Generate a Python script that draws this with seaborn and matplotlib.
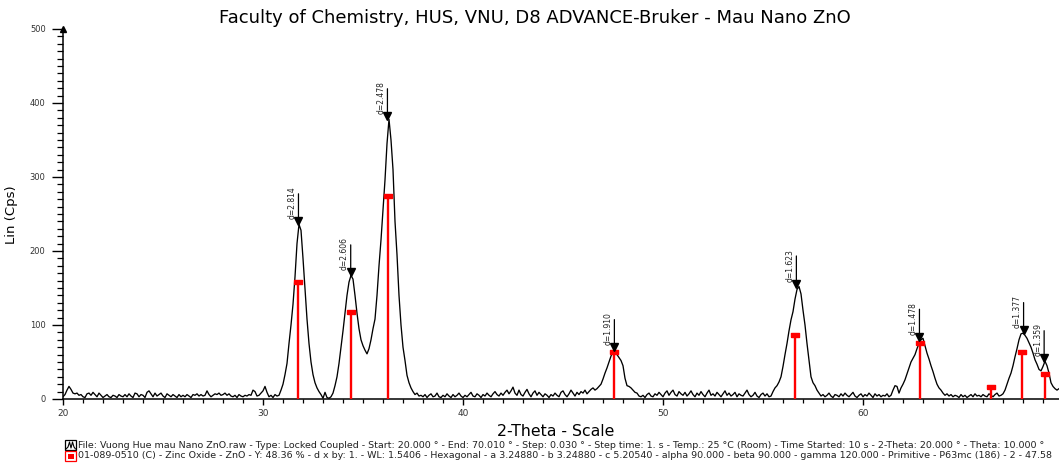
import numpy as np
import pandas as pd
import seaborn as sns
import matplotlib
matplotlib.use("Agg")
import matplotlib.pyplot as plt
from matplotlib.ticker import MultipleLocator, FuncFormatter
from matplotlib.transforms import offset_copy
from matplotlib.patches import Rectangle
from matplotlib.lines import Line2D

# ---- measured pattern: 2-theta from 20.0 to 70.0 in 0.1 degree steps (one row per degree)
two_theta_start = 20.0
two_theta_step = 0.1
intensity = [
    3, 6, 12, 17, 13, 8, 7, 8, 5, 6,            # 20
    3, 2, 7, 8, 5, 9, 6, 3, 8, 5,               # 21
    2, 4, 6, 3, 2, 5, 4, 2, 6, 4,               # 22
    3, 6, 3, 7, 4, 2, 8, 7, 3, 6,               # 23
    5, 2, 9, 11, 7, 3, 8, 4, 6, 8,              # 24
    4, 2, 7, 5, 3, 6, 4, 2, 6, 3,               # 25
    5, 3, 6, 4, 2, 6, 5, 7, 4, 6,               # 26
    4, 5, 11, 6, 3, 5, 7, 6, 8, 5,              # 27
    6, 8, 5, 7, 4, 3, 5, 2, 6, 4,               # 28
    3, 5, 4, 6, 5, 12, 10, 4, 5, 8,             # 29
    11, 17, 9, 3, 5, 2, 6, 4, 5, 12,            # 30
    20, 33, 48, 75, 100, 128, 165, 210, 236, 228,   # 31
    190, 148, 108, 75, 50, 33, 22, 15, 10, 6,   # 32
    1, 9, 2, 1, 3, 8, 18, 30, 48, 70,           # 33
    92, 116, 140, 158, 167, 162, 140, 116, 95, 80,  # 34
    72, 66, 61, 68, 80, 95, 108, 140, 180, 215,     # 35
    255, 296, 345, 378, 350, 310, 240, 195, 140, 100,  # 36
    70, 52, 32, 22, 15, 10, 6, 8, 4, 5,         # 37
    3, 6, 2, 5, 7, 3, 4, 8, 3, 2,               # 38
    5, 3, 7, 4, 2, 6, 3, 5, 8, 4,               # 39
    2, 5, 3, 6, 9, 4, 3, 7, 5, 2,               # 40
    6, 4, 8, 5, 3, 7, 10, 6, 4, 8,              # 41
    5, 9, 12, 7, 11, 16, 8, 5, 12, 6,           # 42
    4, 9, 13, 7, 3, 8, 11, 5, 9, 6,             # 43
    3, 7, 5, 2, 6, 4, 8, 5, 3, 9,               # 44
    11, 6, 3, 7, 12, 8, 4, 9, 6, 10,            # 45
    8, 12, 7, 10, 13, 15, 12, 14, 17, 20,       # 46
    27, 35, 42, 50, 58, 64, 66, 60, 56, 52,     # 47
    45, 28, 18, 17, 15, 12, 9, 8, 4, 3,         # 48
    5, 2, 6, 8, 4, 3, 7, 5, 9, 6,               # 49
    3, 8, 11, 5, 9, 12, 6, 4, 10, 7,            # 50
    5, 9, 4, 7, 11, 6, 3, 8, 5, 10,             # 51
    6, 3, 8, 12, 5, 7, 4, 9, 6, 3,              # 52
    7, 11, 5, 8, 4, 6, 9, 3, 7, 5,              # 53
    4, 8, 12, 6, 3, 5, 9, 4, 2, 6,              # 54
    8, 4, 7, 3, 4, 10, 15, 18, 23, 30,          # 55
    44, 60, 75, 92, 107, 118, 135, 148, 152, 142,   # 56
    120, 100, 75, 52, 30, 22, 18, 12, 8, 4,     # 57
    6, 3, 5, 8, 4, 2, 6, 5, 3, 7,               # 58
    4, 8, 5, 3, 6, 9, 4, 2, 5, 7,               # 59
    3, 6, 4, 8, 5, 2, 7, 4, 6, 3,               # 60
    5, 4, 7, 3, 5, 12, 18, 17, 8, 15,           # 61
    20, 26, 34, 42, 50, 55, 60, 68, 75, 80,     # 62
    82, 72, 62, 54, 45, 37, 28, 20, 15, 12,     # 63
    8, 5, 7, 4, 6, 3, 5, 4, 2, 6,               # 64
    3, 5, 2, 4, 6, 3, 7, 4, 5, 3,               # 65
    6, 4, 3, 7, 5, 3, 6, 8, 4, 5,               # 66
    7, 12, 20, 28, 35, 45, 57, 68, 80, 88,      # 67
    89, 86, 82, 76, 70, 62, 53, 47, 40, 38,     # 68
    44, 51, 45, 35, 22, 17, 14, 12, 14, 12,     # 69
    11,                                         # 70
]

# ---- reference card 01-089-0510 (ZnO), stick positions and heights in counts
ref_two_theta = [31.77, 34.42, 36.25, 47.54, 56.60, 62.86, 66.38, 67.96, 69.10]
ref_counts = [158, 117, 274, 63, 86, 76, 16, 63, 34]

# ---- peaks picked on the measured pattern (d-spacings in Angstrom)
peak_d = [2.814, 2.606, 2.478, 1.910, 1.623, 1.478, 1.377, 1.359]
wavelength = 1.5406

title = "Faculty of Chemistry, HUS, VNU, D8 ADVANCE-Bruker - Mau Nano ZnO"
x_label = "2-Theta - Scale"
y_label = "Lin (Cps)"
legend_lines = [
    "File: Vuong Hue mau Nano ZnO.raw - Type: Locked Coupled - Start: 20.000 \u00b0 - End: 70.010 \u00b0 - "
    "Step: 0.030 \u00b0 - Step time: 1. s - Temp.: 25 \u00b0C (Room) - Time Started: 10 s - "
    "2-Theta: 20.000 \u00b0 - Theta: 10.000 \u00b0",
    "01-089-0510 (C) - Zinc Oxide - ZnO - Y: 48.36 % - d x by: 1. - WL: 1.5406 - Hexagonal - "
    "a 3.24880 - b 3.24880 - c 5.20540 - alpha 90.000 - beta 90.000 - gamma 120.000 - "
    "Primitive - P63mc (186) - 2 - 47.58",
]

sns.set_theme(style="ticks")
plt.rcParams["font.family"] = ["DejaVu Sans"]

W, H = 1059, 463
fig = plt.figure(figsize=(W / 100, H / 100), dpi=100)
ax = fig.add_axes([63 / W, 64 / H, 996 / W, 370 / H])

theta = two_theta_start + two_theta_step * np.arange(len(intensity))
scan = pd.DataFrame({"two_theta": theta, "counts": intensity})
sns.lineplot(data=scan, x="two_theta", y="counts", ax=ax, color="black",
             lw=0.95, estimator=None, sort=False, legend=False)

# reference sticks with small caps
ax.vlines(ref_two_theta, 0, ref_counts, color="#ff0000", lw=1.7, zorder=3)
cap = [(-1.0, -0.55), (1.0, -0.55), (1.0, 0.55), (-1.0, 0.55), (-1.0, -0.55)]
ax.plot(ref_two_theta, ref_counts, ls="none", marker=cap, ms=5.4,
        color="#ff0000", mec="#ff0000", zorder=4)

# peak markers: triangle on the peak, a leader line and the d value
tri_tr = offset_copy(ax.transData, fig=fig, x=0, y=3, units="dots")
lab_tr = offset_copy(ax.transData, fig=fig, x=-2, y=5, units="dots")
for d in peak_d:
    pos = 2 * np.degrees(np.arcsin(wavelength / (2 * d)))
    near = np.abs(theta - pos) <= 0.15
    top = float(np.max(np.asarray(intensity)[near]))
    ax.plot([pos], [top], ls="none", marker="v", ms=5.5, color="black",
            transform=tri_tr, zorder=5, clip_on=False)
    ax.annotate("", xy=(pos, top), xytext=(0, 22), textcoords="offset points",
                arrowprops=dict(arrowstyle="-", lw=0.9, color="black",
                                shrinkA=0, shrinkB=0), zorder=5)
    ax.text(pos, top, f"d={d:.3f}", transform=lab_tr, rotation=90,
            ha="right", va="bottom", fontsize=5.5, color="#222222")

ax.set_xlim(20, 69.8)
ax.set_ylim(0, 500)
ax.xaxis.set_major_locator(MultipleLocator(10))
ax.xaxis.set_minor_locator(MultipleLocator(1))
ax.yaxis.set_major_locator(MultipleLocator(100))
ax.yaxis.set_minor_locator(MultipleLocator(10))
ax.xaxis.set_major_formatter(FuncFormatter(lambda v, p: f"{v:.0f}"))
ax.tick_params(axis="y", which="major", length=8, width=1.0, pad=4.5,
               labelsize=6, labelcolor="#333333", color="black", direction="out")
ax.tick_params(axis="y", which="minor", length=4.5, width=0.9, color="black",
               direction="out")
ax.tick_params(axis="x", which="major", length=4.5, width=1.0, pad=3,
               labelsize=6.5, labelcolor="#333333", color="black", direction="out")
ax.tick_params(axis="x", which="minor", length=2.8, width=0.9, color="black",
               direction="out")
for s in ("top", "right"):
    ax.spines[s].set_visible(False)
for s in ("left", "bottom"):
    ax.spines[s].set_color("black")
    ax.spines[s].set_linewidth(1.1)
ax.set_xlabel("")
ax.set_ylabel("")
ax.plot([0], [1], transform=ax.transAxes, marker="^", ms=4.5, color="black",
        clip_on=False, zorder=6)

# titles and labels
fig.text(535 / W, 1 - 18 / H, title, ha="center", va="center", fontsize=13,
         color="black")
fig.text(556 / W, 1 - 432 / H, x_label, ha="center", va="center", fontsize=11.3,
         color="black")
fig.text(12 / W, 1 - 215 / H, y_label, ha="center", va="center", rotation=90,
         fontsize=9.5, color="black")

# file / card description lines with their icons
fig.text(78 / W, 1 - 445 / H, legend_lines[0], ha="left", va="center",
         fontsize=6.8, color="#222222")
fig.text(78 / W, 1 - 455.5 / H, legend_lines[1], ha="left", va="center",
         fontsize=6.8, color="#222222")
fig.patches.append(Rectangle((65 / W, 1 - 450 / H), 11 / W, 10 / H,
                             transform=fig.transFigure, fill=False,
                             ec="black", lw=0.9))
fig.lines.append(Line2D(np.array([66, 68, 69.5, 71, 72.5, 74, 75.5]) / W,
                        1 - np.array([449, 447, 442, 448, 442, 447, 449]) / H,
                        transform=fig.transFigure, color="black", lw=0.8))
fig.patches.append(Rectangle((65 / W, 1 - 461 / H), 11 / W, 10 / H,
                             transform=fig.transFigure, fill=False,
                             ec="#ff0000", lw=0.9))
fig.patches.append(Rectangle((67.5 / W, 1 - 458.5 / H), 6 / W, 5 / H,
                             transform=fig.transFigure, fill=True,
                             fc="#ff0000", ec="none"))

fig.savefig("out.png", dpi=100, facecolor="white")
